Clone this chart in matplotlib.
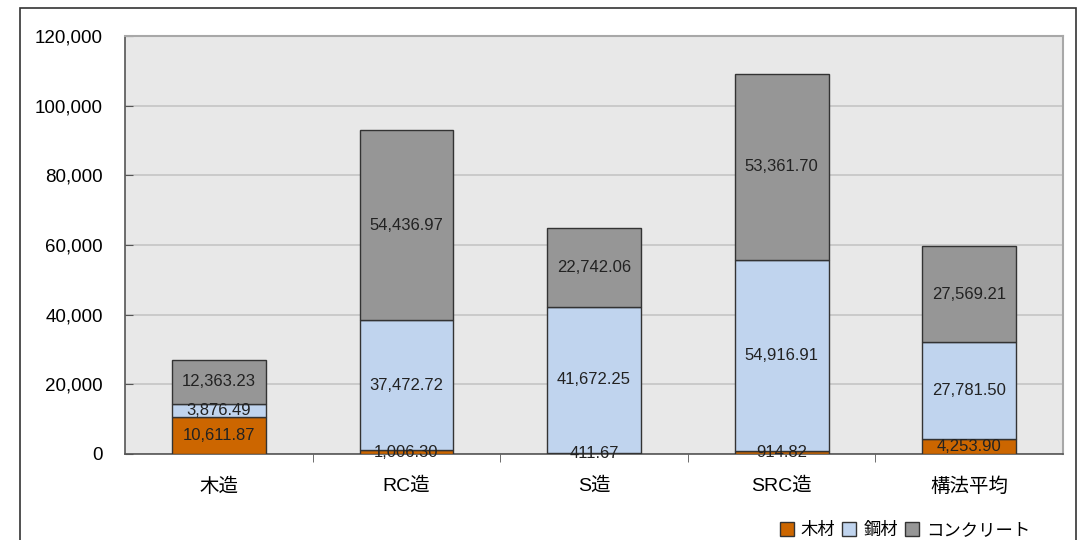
import matplotlib.pyplot as plt
from matplotlib.patches import Rectangle
from matplotlib.ticker import FuncFormatter

plt.rcParams['font.family'] = ['Liberation Sans', 'Noto Sans CJK JP', 'DejaVu Sans']

categories = ['木造', 'RC造', 'S造', 'SRC造', '構法平均']
wood = [10611.87, 1006.30, 411.67, 914.82, 4253.90]
steel = [3876.49, 37472.72, 41672.25, 54916.91, 27781.50]
concrete = [12363.23, 54436.97, 22742.06, 53361.70, 27569.21]
series_names = ['木材', '鋼材', 'コンクリート']
colors = ['#cc6600', '#c0d4ee', '#969696']

fig = plt.figure(figsize=(10.86, 5.4), dpi=100)
ax = fig.add_axes([125 / 1086, 1 - 454 / 540, (1063 - 125) / 1086, (454 - 36) / 540])
ax.set_facecolor('#e8e8e8')

# outer frame of the chart area
fig.patches.append(Rectangle((20 / 1086, -0.05), (1076 - 20) / 1086, 1.05 - 8 / 540,
                             transform=fig.transFigure, fill=False,
                             edgecolor='#333333', linewidth=1.2, clip_on=False))

x = list(range(len(categories)))
bottom = [0] * len(categories)
for vals, col, name in zip([wood, steel, concrete], colors, series_names):
    ax.bar(x, vals, width=0.5, bottom=bottom, color=col, edgecolor='#333333',
           linewidth=1.0, label=name, zorder=3)
    for xi, b, v in zip(x, bottom, vals):
        ax.text(xi, b + v / 2, f'{v:,.2f}', ha='center', va='center',
                fontsize=12, color='#222222', zorder=4)
    bottom = [b + v for b, v in zip(bottom, vals)]

ax.set_xlim(-0.5, len(categories) - 0.5)
ax.set_ylim(0, 120000)
ax.set_yticks(range(0, 120001, 20000))
ax.yaxis.set_major_formatter(FuncFormatter(lambda v, p: f'{int(v):,}'))
ax.grid(axis='y', color='#c4c4c4', linewidth=1.2, zorder=0)
ax.tick_params(axis='y', direction='in', length=6, labelsize=13.5, pad=16,
               color='#555555')
ax.set_xticks(x)
ax.set_xticklabels(categories, fontsize=14)
ax.tick_params(axis='x', length=0, pad=17)
ax.set_xticks([i + 0.5 for i in x[:-1]], minor=True)
ax.tick_params(axis='x', which='minor', length=6, direction='out', color='#555555')

for s in ['top', 'right']:
    ax.spines[s].set_color('#a8a8a8')
    ax.spines[s].set_linewidth(1.5)
ax.spines['left'].set_color('#555555')
ax.spines['bottom'].set_color('#555555')
ax.spines['left'].set_linewidth(1.2)
ax.spines['bottom'].set_linewidth(1.2)

fig.legend(loc='center', bbox_to_anchor=(905 / 1086, 1 - 530 / 540), ncol=3,
           frameon=False, fontsize=12.5, handlelength=0.8, handleheight=0.8,
           handletextpad=0.4, columnspacing=0.4)

fig.savefig('out.png', dpi=100)
